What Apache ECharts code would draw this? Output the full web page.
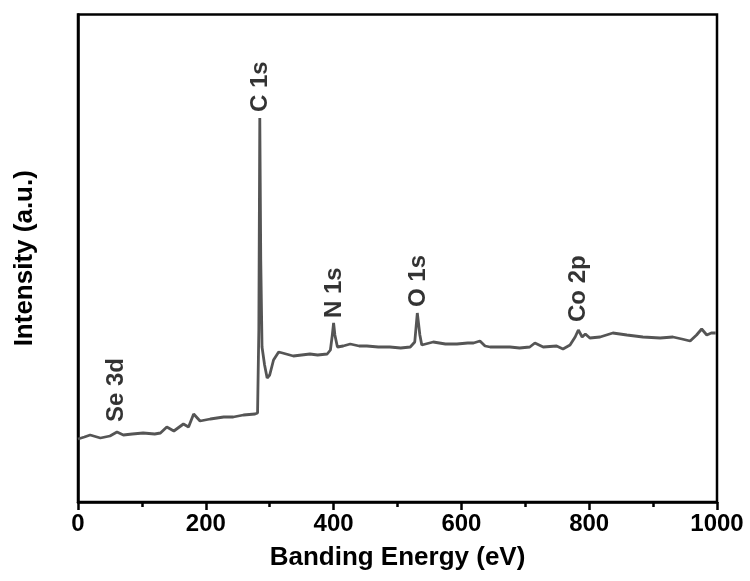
<!DOCTYPE html>
<html>
<head>
<meta charset="utf-8">
<script src="https://cdn.jsdelivr.net/npm/echarts@6/dist/echarts.min.js"></script>
<style>html,body{margin:0;padding:0;background:#fff}#c{width:750px;height:581px}</style>
</head>
<body>
<div id="c"></div>
<script>
// Binding energy (eV)
var energy = [0,10,19,35,50,61,71,85,102,120,129,139,150,165,173,181,191,207,228,243,259,277,281,283,284.5,286,288,292,296,300,306,314,320,337,350,363,375,390,395,398,400,402,406,415,426,440,452,470,488,505,520,527,531,535,538,556,575,593,610,619,629,637,645,660,676,691,707,715,728,749,759,770,778,783,789,794,801,817,837,859,884,911,931,945,958,968,976,984,991,998];
// Intensity (a.u.)
var intensity = [63,65,67,64,66,70,67,68,69,68,69,75,71,78,75,88,81,83,85,85,87,88,89,172,384,242,155,137,124,127,142,150,149,146,147,148,147,148,152,167,179,167,155,156,158,156,156,155,155,154,155,160,189,167,157,160,158,158,159,159,161,156,155,155,155,154,155,159,155,156,153,157,165,172,165,168,164,165,169,167,165,164,165,163,161,167,173,167,169,169];
// Peak annotations
var peakNames = ['Se 3d','C 1s','N 1s','O 1s','Co 2p'];
var peakX = [60,285,401,533,783];
var peakY = [80,390,184,195,180];
var xTicks = [0,200,400,600,800,1000];

var FONT = "'Liberation Sans', Arial, sans-serif";
var chart = echarts.init(document.getElementById('c'), null, {renderer:'canvas'});
var lineData = energy.map(function(e,i){return [e,intensity[i]];});
var labelData = peakNames.map(function(n,i){return {name:n, value:[peakX[i],peakY[i]]};});
chart.setOption({
  animation:false,
  backgroundColor:'#fff',
  grid:{left:78,right:33,top:14.5,bottom:79,show:true,borderColor:'#000',borderWidth:2.5,backgroundColor:'transparent'},
  xAxis:{
    type:'value',min:xTicks[0],max:xTicks[xTicks.length-1],interval:200,
    name:'Banding Energy (eV)',nameLocation:'middle',nameGap:43,
    nameTextStyle:{fontFamily:FONT,fontWeight:'bold',fontSize:26,color:'#000'},
    axisLine:{show:true,lineStyle:{color:'#000',width:2.5}},
    axisTick:{show:true,inside:false,length:8,lineStyle:{color:'#000',width:2.5}},
    minorTick:{show:true,splitNumber:2,length:5,lineStyle:{color:'#000',width:2.5}},
    axisLabel:{fontFamily:FONT,fontWeight:'bold',fontSize:24,color:'#000',margin:10,
      formatter:function(v){return String(v);}},
    splitLine:{show:false}
  },
  yAxis:{
    type:'value',min:0,max:487.5,
    name:'Intensity (a.u.)',nameLocation:'middle',nameGap:40,nameRotate:90,
    nameTextStyle:{fontFamily:FONT,fontWeight:'bold',fontSize:26,color:'#000'},
    axisLine:{show:true,lineStyle:{color:'#000',width:2.5}},
    axisTick:{show:false},axisLabel:{show:false},splitLine:{show:false}
  },
  series:[
    {type:'line',data:lineData,showSymbol:false,symbol:'none',
     lineStyle:{color:'#555555',width:2.8},z:3},
    {type:'scatter',data:labelData,symbolSize:0,z:4,
     label:{show:true,formatter:'{b}',position:[0,0],rotate:90,align:'left',verticalAlign:'middle',
       fontFamily:FONT,fontWeight:'bold',fontSize:24,color:'#000'}}
  ]
});
</script>
</body>
</html>
